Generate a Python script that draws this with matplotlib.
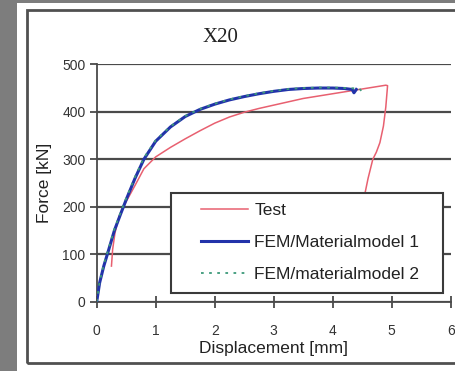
import matplotlib
matplotlib.use("Agg")
import matplotlib.pyplot as plt
from matplotlib.patches import Rectangle

# Data
test_x = [0.25, 0.27, 0.31, 0.38, 0.50, 0.65, 0.80, 1.00, 1.25, 1.50, 1.75, 2.00, 2.25, 2.50,
          2.75, 3.00, 3.25, 3.50, 3.75, 4.00, 4.25, 4.50, 4.75, 4.90, 4.93, 4.92, 4.90, 4.86,
          4.80, 4.74, 4.68, 4.60, 4.55, 4.45, 4.35]
test_y = [75, 110, 145, 180, 211, 245, 280, 305, 325, 343, 360, 376, 389, 399,
          407, 414, 421, 428, 433, 438, 443, 448, 453, 456, 455, 440, 410, 370,
          335, 315, 300, 260, 230, 190, 150]

fem1_x = [0.0, 0.05, 0.12, 0.20, 0.30, 0.40, 0.50, 0.65, 0.80, 1.00, 1.25, 1.50, 1.75, 2.00,
          2.25, 2.50, 2.75, 3.00, 3.25, 3.50, 3.75, 4.00, 4.20, 4.33, 4.36, 4.40]
fem1_y = [0, 40, 75, 108, 150, 183, 215, 260, 300, 338, 368, 390, 405, 416,
          425, 432, 438, 443, 447, 449, 450, 450, 449, 447, 440, 447]

fem2_x = [0.0, 0.05, 0.12, 0.20, 0.30, 0.40, 0.50, 0.65, 0.80, 1.00, 1.25, 1.50, 1.75, 2.00,
          2.25, 2.50, 2.75, 3.00, 3.25, 3.50, 3.75, 4.00, 4.25, 4.45, 4.50, 4.51]
fem2_y = [0, 42, 78, 111, 153, 186, 218, 263, 303, 340, 369, 391, 406, 417,
          426, 433, 439, 444, 448, 450, 451, 451, 450, 449, 442, 449]

labels = ["Test", "FEM/Materialmodel 1", "FEM/materialmodel 2"]
xticks = [0, 1, 2, 3, 4, 5, 6]
yticks = [0, 100, 200, 300, 400, 500]

W, H = 456, 371
fig = plt.figure(figsize=(W / 100, H / 100), dpi=100)
fig.patch.set_facecolor("white")

# gray surroundings
fig.patches.append(Rectangle((0, 0), 17 / W, 1, transform=fig.transFigure,
                             facecolor="#7d7d7d", edgecolor="none", zorder=0))
fig.patches.append(Rectangle((0, 1 - 3 / H), 1, 3 / H, transform=fig.transFigure,
                             facecolor="#7d7d7d", edgecolor="none", zorder=0))
# panel frame
fig.patches.append(Rectangle((27 / W, 1 - 363 / H), (470 - 27) / W, (363 - 10) / H,
                             transform=fig.transFigure, facecolor="none",
                             edgecolor="#505050", linewidth=2, zorder=1))

ax = fig.add_axes([96.7 / W, 1 - 301.7 / H, (450.7 - 96.7) / W, (301.7 - 64.3) / H])
ax.set_facecolor("white")

ax.plot(test_x, test_y, color="#e86070", lw=1.1, zorder=3, label=labels[0])
ax.plot(fem1_x, fem1_y, color="#2233aa", lw=2.2, zorder=3, label=labels[1])
ax.plot(fem2_x, fem2_y, color="#3d9a7a", lw=1.3, ls=(0, (1.5, 3)), zorder=4, label=labels[2])

ax.set_xlim(0, 6)
ax.set_ylim(0, 500)
ax.set_xticks(xticks)
ax.set_yticks(yticks)
ax.yaxis.grid(True, color="#4a4a4a", lw=1.6)
ax.set_axisbelow(True)
for s in ["top", "right"]:
    ax.spines[s].set_visible(False)
for s in ["left", "bottom"]:
    ax.spines[s].set_color("#4a4a4a")
    ax.spines[s].set_linewidth(1.3)
ax.tick_params(axis="y", direction="out", length=5, width=1.3, color="#4a4a4a",
               labelsize=10, labelcolor="#333333", pad=3)
ax.tick_params(axis="x", direction="inout", length=8, width=1.3, color="#4a4a4a",
               labelsize=10, labelcolor="#333333", pad=12)
for t in ax.get_xticklabels() + ax.get_yticklabels():
    t.set_family("Liberation Sans")

ax.set_xlabel("Displacement [mm]", fontsize=12.5, family="Liberation Sans",
              color="#222222", labelpad=2)
ax.set_ylabel("Force [kN]", fontsize=12.5, family="Liberation Sans",
              color="#222222", labelpad=7)
fig.text(220 / W, 1 - 37 / H, "X20", fontsize=15, family="Liberation Serif",
         ha="center", va="center", color="#222222")

# legend box
x0 = (171 - 96.7) / 354.0
x1 = (443 - 96.7) / 354.0
y1 = (301.7 - 193) / 237.4
y0 = (301.7 - 293) / 237.4
ax.add_patch(Rectangle((x0, y0), x1 - x0, y1 - y0, transform=ax.transAxes,
                       facecolor="white", edgecolor="#3a3a3a", lw=1.5, zorder=5))
leg = ax.legend(loc="upper left", bbox_to_anchor=((200 - 96.7) / 354.0 - 0.008, (301.7 - 199) / 237.4),
                frameon=False, prop={"family": "Liberation Sans", "size": 12.5},
                handlelength=2.75, handletextpad=0.35, labelspacing=0.97,
                borderpad=0.2, borderaxespad=0)
leg.set_zorder(6)
for t in leg.get_texts():
    t.set_color("#222222")

fig.savefig("out.png", dpi=100)
